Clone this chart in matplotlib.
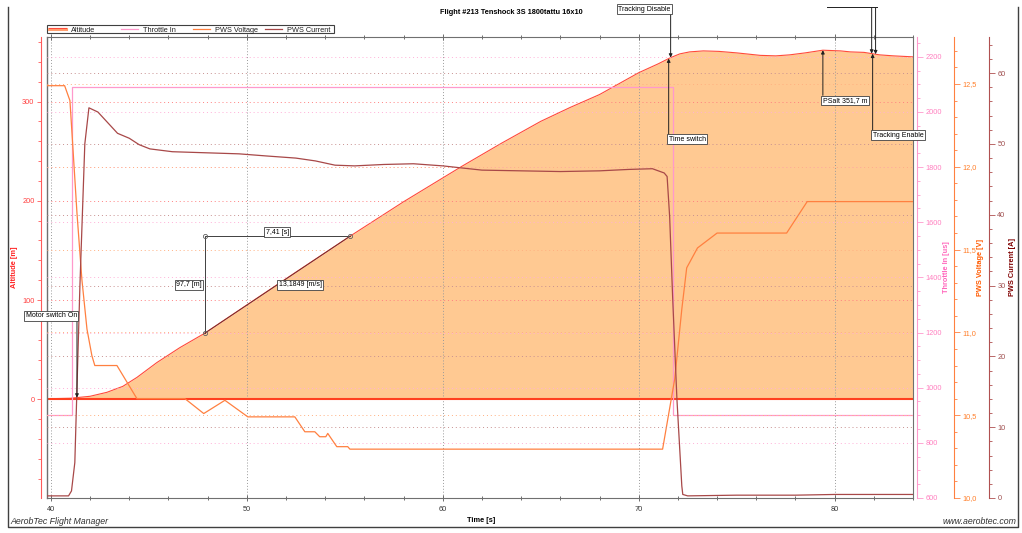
import numpy as np
import matplotlib
matplotlib.use('Agg')
import matplotlib.pyplot as plt
from matplotlib.ticker import MultipleLocator, FuncFormatter
from matplotlib.patches import Rectangle
from matplotlib.lines import Line2D
from matplotlib.transforms import Affine2D

plt.rcParams['font.family'] = ['Liberation Sans', 'DejaVu Sans']
plt.rcParams['axes.unicode_minus'] = False

W, H = 1022, 533

# --- data ---
alt_t = [39.8, 41.0, 42.0, 42.86, 43.67, 44.39, 45.41, 46.58, 47.85, 50.0, 52.5, 55.26,
         58.0, 61.0, 63.0, 65.0, 66.5, 68.0, 69.0, 70.0, 71.0, 71.6, 72.1, 72.6, 73.3,
         74.1, 75.0, 76.2, 77.0, 77.7, 78.5, 79.4, 80.3, 80.8, 81.5, 82.3, 83.0, 84.0]
alt_v = [0.5, 1.0, 3.0, 7.0, 13.0, 22.0, 37.0, 52.0, 66.5, 95.0, 128.0, 164.2,
         199.0, 235.0, 258.0, 280.0, 294.0, 307.0, 318.0, 329.0, 338.0, 344.0, 348.0, 350.0, 351.0,
         350.5, 349.0, 346.5, 346.0, 347.0, 349.0, 351.7, 351.0, 350.0, 349.5, 347.0, 346.0, 345.0]

thr_t = [39.8, 41.1, 41.1, 71.75, 71.75, 84.0]
thr_v = [900, 900, 2090, 2090, 900, 900]

volt_t = [39.8, 40.7, 40.97, 41.12, 41.33, 41.58, 41.84, 42.09, 42.24, 43.37, 44.39, 46.84,
          47.8, 48.88, 50.05, 52.45, 52.96, 53.47, 53.72, 54.03, 54.13, 54.59, 55.15, 55.26,
          71.22, 71.84, 72.2, 72.45, 73.0, 74.0, 77.55, 78.6, 84.0]
volt_v = [12.49, 12.49, 12.4, 12.12, 11.72, 11.32, 11.02, 10.86, 10.8, 10.8, 10.6, 10.6,
          10.51, 10.59, 10.49, 10.49, 10.4, 10.4, 10.37, 10.37, 10.39, 10.31, 10.31, 10.295,
          10.295, 10.72, 11.14, 11.39, 11.51, 11.6, 11.6, 11.79, 11.79]

cur_t = [39.8, 40.9, 41.05, 41.22, 41.48, 41.73, 41.94, 42.4, 43.0, 43.4, 44.0, 44.5, 45.05,
         46.2, 49.6, 51.0, 52.5, 53.5, 54.5, 55.5, 57.0, 58.5, 60.0, 61.0, 62.0, 64.0, 66.0,
         68.0, 69.5, 70.7, 71.3, 71.45, 71.58, 71.73, 71.95, 72.2, 72.25, 72.5, 75.0, 78.0, 80.0, 84.0]
cur_v = [0.3, 0.3, 1.0, 5.0, 30.0, 50.0, 55.1, 54.5, 52.7, 51.5, 50.8, 49.9, 49.3,
         48.9, 48.6, 48.3, 48.0, 47.6, 47.0, 46.9, 47.1, 47.2, 46.9, 46.6, 46.3, 46.2, 46.1,
         46.2, 46.4, 46.5, 45.9, 45.4, 39.7, 28.5, 14.0, 1.7, 0.5, 0.3, 0.4, 0.4, 0.5, 0.5]

# events (time of marker)
ev_names = ['Motor switch On', 'Tracking Disable', 'Time switch', 'PSalt', 'Tracking Enable']
ev_t = [41.33, 71.63, 71.53, 79.4, 81.94]
ev_top_t = [81.89, 82.09]   # two arrows coming from labels cut off at the top

# measurement between two points
meas_t = [47.85, 55.26]

# colors
ALT_LINE = '#FF4A3A'
ALT_FILL = '#FFC992'
THR = '#FF99CC'
VOLT = '#FF8040'
CUR = '#A84848'
FS = 5.3

fig = plt.figure(figsize=(W / 100, H / 100), dpi=100)
fig.subplots_adjust(left=47 / W, right=913 / W, bottom=1 - 498 / H, top=1 - 37 / H)
ax = fig.add_subplot(111)
px = Affine2D().scale(1 / W, -1 / H).translate(0, 1) + fig.transFigure  # pixel coords from top-left

ax_thr = ax.twinx()
ax_volt = ax.twinx()
ax_cur = ax.twinx()
for a, pos in [(ax_thr, 917), (ax_volt, 954), (ax_cur, 989)]:
    a.spines['right'].set_position(('axes', (pos - 47) / 866))
    for s in ['left', 'top', 'bottom']:
        a.spines[s].set_visible(False)

# altitude: filled area + zero line
ax.fill_between(alt_t, 0, alt_v, color=ALT_FILL, lw=0, zorder=1)
ax.plot(alt_t, alt_v, color=ALT_LINE, lw=0.8, zorder=3)
ax.axhline(0, color='#FF4020', lw=1.5, zorder=3)

ax_thr.plot(thr_t, thr_v, color=THR, lw=0.9)
ax_volt.plot(volt_t, volt_v, color=VOLT, lw=0.9)
ax_cur.plot(cur_t, cur_v, color=CUR, lw=0.9)

# axes ranges
ax.set_xlim(39.8, 84.0)
ax.set_ylim(-99.5, 365)
ax_thr.set_ylim(600, 2272)
ax_volt.set_ylim(10.0, 12.784)
ax_cur.set_ylim(0, 65.1)

# x axis
ax.xaxis.set_major_locator(MultipleLocator(10))
ax.xaxis.set_minor_locator(MultipleLocator(2))
ax.tick_params(axis='x', which='both', top=True, direction='inout', color='#555555',
               labelcolor='#333333', labelsize=FS, width=0.6, pad=3)
ax.tick_params(axis='x', which='major', length=5)
ax.tick_params(axis='x', which='minor', length=3)
ax.grid(axis='x', which='major', color='#9A9A9A', ls=(0, (1, 2)), lw=0.7)

# left altitude axis
ax.spines['left'].set_position(('outward', 4))
ax.spines['left'].set_color('#FF5A5A')
for s in ['top', 'bottom', 'right']:
    ax.spines[s].set_color('#707070')
ax.plot([0, 0], [0, 1], transform=ax.transAxes, color='#707070', lw=1, clip_on=False, zorder=5)
ax.yaxis.set_major_locator(MultipleLocator(100))
ax.yaxis.set_minor_locator(MultipleLocator(20))
ax.tick_params(axis='y', which='both', direction='out', color='#FF5A5A', labelcolor='#FF4040',
               labelsize=FS, width=0.6, pad=2)
ax.tick_params(axis='y', which='major', length=3)
ax.tick_params(axis='y', which='minor', length=2)
ax.grid(axis='y', which='major', color='#FF8080', ls=(0, (1, 3)), lw=0.7)

# right axes
right_axes = [
    (ax_thr, 200, 50, '#FF99CC', '#FF80C0', '#FFB0D8', lambda v, p: '%d' % v),
    (ax_volt, 0.5, 0.1, '#FF8040', '#FF7F2A', '#FFB080', lambda v, p: ('%.1f' % v).replace('.', ',')),
    (ax_cur, 10, 2, '#B05050', '#A05050', '#C89090', lambda v, p: '%d' % v),
]
for a, maj, mnr, sc, lc, gc, fmt in right_axes:
    a.spines['right'].set_color(sc)
    a.yaxis.set_major_locator(MultipleLocator(maj))
    a.yaxis.set_minor_locator(MultipleLocator(mnr))
    a.yaxis.set_major_formatter(FuncFormatter(fmt))
    a.tick_params(axis='y', which='both', direction='out', color=sc, labelcolor=lc,
                  labelsize=FS, width=0.6, pad=2)
    a.tick_params(axis='y', which='major', length=4)
    a.tick_params(axis='y', which='minor', length=2)
    a.grid(axis='y', which='major', color=gc, ls=(0, (1, 3)), lw=0.7)

# axis labels
fig.text(481, 521, 'Time [s]', transform=px, ha='center', va='center', fontsize=FS, fontweight='bold')
fig.text(15, 267, 'Altitude [m]', transform=px, ha='center', va='center', rotation=90,
         fontsize=FS, fontweight='bold', color='#FF2020')
fig.text(947, 267, 'Throttle In [us]', transform=px, ha='center', va='center', rotation=90,
         fontsize=FS, fontweight='bold', color='#FF66BB')
fig.text(981, 267, 'PWS Voltage [V]', transform=px, ha='center', va='center', rotation=90,
         fontsize=FS, fontweight='bold', color='#FF5A00')
fig.text(1012, 267, 'PWS Current [A]', transform=px, ha='center', va='center', rotation=90,
         fontsize=FS, fontweight='bold', color='#800000')

# title and footer
fig.text(511, 13, 'Flight #213 Tenshock 3S 1800tattu 16x10', transform=px, ha='center', va='center',
         fontsize=FS, fontweight='bold')
fig.text(10, 521, 'AerobTec Flight Manager', transform=px, ha='left', va='center',
         fontsize=6.3, style='italic', color='#333333')
fig.text(1016, 521, 'www.aerobtec.com', transform=px, ha='right', va='center',
         fontsize=6.3, style='italic', color='#333333')
fig.add_artist(Line2D([8, 8, 1018, 1018], [7, 527, 527, 7], transform=px, color='#404040', lw=1))

# legend (drawn by hand, fixed column width like the original)
leg_names = ['Altitude', 'Throttle In', 'PWS Voltage', 'PWS Current']
leg_colors = [ALT_LINE, THR, VOLT, CUR]
fig.add_artist(Rectangle((47, 24.5), 287, 8.5, transform=px, fc='white', ec='#404040', lw=0.8))
for i, (name, c) in enumerate(zip(leg_names, leg_colors)):
    x0 = 49 + 72 * i
    if i == 0:
        fig.add_artist(Line2D([x0, x0 + 17], [29.3, 29.3], transform=px, color='#FFA070', lw=2.2))
        fig.add_artist(Line2D([x0, x0 + 17], [28.3, 28.3], transform=px, color=ALT_LINE, lw=0.8))
    else:
        fig.add_artist(Line2D([x0, x0 + 17], [28.7, 28.7], transform=px, color=c, lw=0.9))
    fig.text(x0 + 22, 31.6, name, transform=px, ha='left', va='baseline', fontsize=FS, color='#222222')

# event annotations (drawn on the top axes, in altitude coordinates)
box = dict(boxstyle='square,pad=0.2', fc='white', ec='#404040', lw=0.6)
ev_text_y = [84, 393, 262, 301, 266]
ev_ha = ['right', 'right', 'left', 'left', 'left']
ev_rel = [(1, 0), (1, 0), (0, 1), (0, 1), (0, 1)]
for name, t, ty, ha, rel in zip(ev_names, ev_t, ev_text_y, ev_ha, ev_rel):
    a_val = np.interp(t, alt_t, alt_v)
    if name == 'PSalt':
        name = ('PSalt %.1f m' % max(alt_v)).replace('.', ',')
    ax_cur.annotate(name, xy=(t, a_val), xycoords=ax.transData, xytext=(t, ty), textcoords=ax.transData,
                    ha=ha, va='center', fontsize=5, bbox=box, annotation_clip=False, zorder=10,
                    arrowprops=dict(arrowstyle='-|>', color='#202020', lw=0.7, shrinkA=0, shrinkB=0,
                                    mutation_scale=5, relpos=rel))
for t in ev_top_t:
    ax_cur.annotate('', xy=(t, np.interp(t, alt_t, alt_v)), xycoords=ax.transData, xytext=(t, 394.8),
                    textcoords=ax.transData, annotation_clip=False,
                    arrowprops=dict(arrowstyle='-|>', color='#202020', lw=0.7, shrinkA=0, shrinkB=0,
                                    mutation_scale=5))
ax_cur.plot([79.59, ev_top_t[-1] + 0.05], [394.8, 394.8], transform=ax.transData, color='#202020',
            lw=0.7, clip_on=False)

# measurement triangle
m_alt = np.interp(meas_t, alt_t, alt_v)
t1, t2 = meas_t
a1, a2 = m_alt
dt = t2 - t1
dh = a2 - a1
mc = '#404040'
ax_cur.plot([t1, t1, t2], [a1, a2, a2], transform=ax.transData, color=mc, lw=0.7)
ax_cur.plot([t1, t2], [a1, a2], transform=ax.transData, color='#703030', lw=0.7)
ax_cur.plot([t1, t1, t2], [a1, a2, a2], 'o', transform=ax.transData, ms=3, mfc='none', mec='#606060', mew=0.6)
ax_cur.annotate(('%.2f [s]' % dt).replace('.', ','), xy=((t1 + t2) / 2, a2), xycoords=ax.transData,
                xytext=(0, 3), textcoords='offset points', ha='center', va='center', fontsize=5, bbox=box)
ax_cur.annotate(('%.1f [m]' % dh).replace('.', ','), xy=(t1, (a1 + a2) / 2), xycoords=ax.transData,
                xytext=(-2, 0), textcoords='offset points', ha='right', va='center', fontsize=5, bbox=box)
ax_cur.annotate(('%.4f [m/s]' % (dh / dt)).replace('.', ','), xy=((t1 + t2) / 2, (a1 + a2) / 2),
                xycoords=ax.transData, xytext=(1, 0), textcoords='offset points', ha='left', va='center',
                fontsize=5, bbox=box)

ax.set_xlim(39.8, 84.0)
ax_cur.set_ylim(0, 65.1)

plt.savefig('out.png', dpi=100)
